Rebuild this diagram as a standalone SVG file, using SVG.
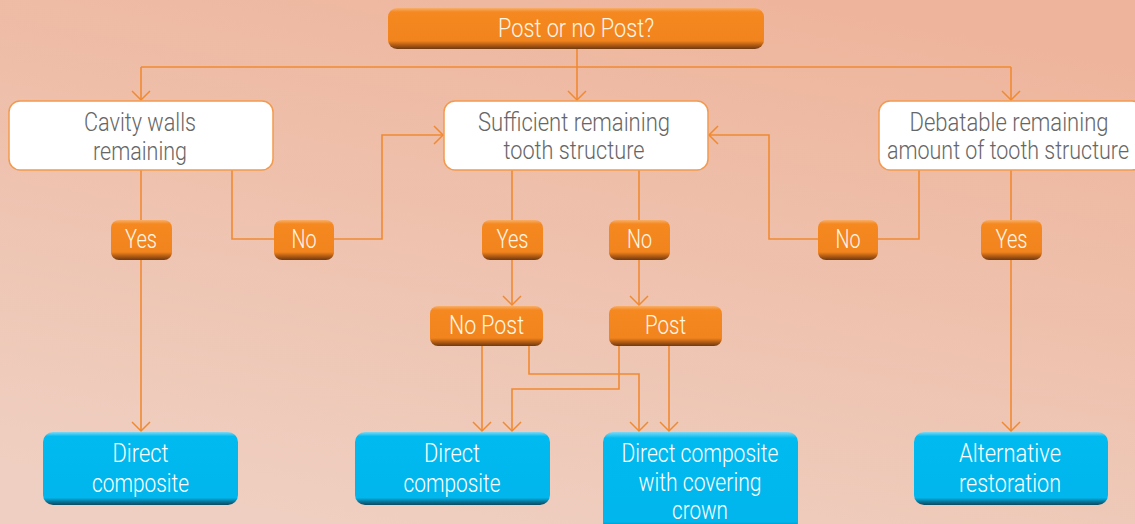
<svg xmlns="http://www.w3.org/2000/svg" width="1135" height="524" viewBox="0 0 1135 524">
<defs>
  <linearGradient id="bg" x1="0.7" y1="0" x2="0.3" y2="1">
    <stop offset="0" stop-color="#EEB59C"/>
    <stop offset="1" stop-color="#EFCFC1"/>
  </linearGradient>
  <linearGradient id="og" x1="0" y1="0" x2="0" y2="1">
    <stop offset="0" stop-color="#F9AE6A"/>
    <stop offset="0.1" stop-color="#F5881F"/>
    <stop offset="0.8" stop-color="#F2841E"/>
    <stop offset="0.9" stop-color="#B35C14"/>
    <stop offset="1" stop-color="#6E3A10"/>
  </linearGradient>
  <linearGradient id="bl" x1="0" y1="0" x2="0" y2="1">
    <stop offset="0" stop-color="#7ED9F6"/>
    <stop offset="0.06" stop-color="#00BAF0"/>
    <stop offset="0.9" stop-color="#00B6EC"/>
    <stop offset="0.96" stop-color="#0A6E90"/>
    <stop offset="1" stop-color="#0D4A60"/>
  </linearGradient>
  <marker id="ah" viewBox="-11 -11 13 22" markerWidth="13" markerHeight="22" refX="0" refY="0" orient="auto" markerUnits="userSpaceOnUse">
    <path d="M-9,-9 L0,0 L-9,9" fill="none" stroke="#F08A32" stroke-width="1.5"/>
  </marker>
  <style>
    .ln{fill:none;stroke:#F08A32;stroke-width:1.6}
    .ar{marker-end:url(#ah)}
    .wb{fill:#FFFFFF;stroke:#F39A4E;stroke-width:1.5}
    .ob{fill:url(#og)}
    .bb{fill:url(#bl)}
    text{font-family:Roboto,"Liberation Sans",sans-serif;font-weight:300;font-size:26px;text-anchor:middle}
    .tw{fill:#666666}
    .to{fill:#FFF6E6}
    .tb{fill:#FFFFFF}
  </style>
</defs>
<rect width="1135" height="524" fill="url(#bg)"/>

<g id="connectors">
  <path class="ln" d="M141,67 H1011"/>
  <path class="ln ar" d="M577,48 V100"/>
  <path class="ln ar" d="M141,67 V100"/>
  <path class="ln ar" d="M1011,67 V100"/>
  <path class="ln" d="M141,170 V220"/>
  <path class="ln ar" d="M141,260 V431"/>
  <path class="ln" d="M232,170 V239 H274"/>
  <path class="ln ar" d="M334,239 H382 V135 H443"/>
  <path class="ln" d="M512,170 V220"/>
  <path class="ln ar" d="M512,260 V305"/>
  <path class="ln" d="M639,170 V220"/>
  <path class="ln ar" d="M639,260 V305"/>
  <path class="ln ar" d="M482,346 V431"/>
  <path class="ln ar" d="M529,346 V374 H639 V431"/>
  <path class="ln ar" d="M619,346 V389 H512 V431"/>
  <path class="ln ar" d="M669,346 V431"/>
  <path class="ln" d="M919,170 V239 H878"/>
  <path class="ln ar" d="M818,239 H769 V135 H709"/>
  <path class="ln" d="M1011,170 V220"/>
  <path class="ln ar" d="M1011,260 V431"/>
</g>

<g id="n-top">
  <rect class="ob" x="388" y="8" width="376" height="41" rx="9"/>
  <text class="to" x="576" y="37" textLength="156" lengthAdjust="spacingAndGlyphs">Post or no Post?</text>
</g>

<g id="n-cavity">
  <rect class="wb" x="9" y="101" width="264" height="69" rx="11"/>
  <text class="tw" x="140" y="131" textLength="112" lengthAdjust="spacingAndGlyphs">Cavity walls</text>
  <text class="tw" x="140" y="160" textLength="94" lengthAdjust="spacingAndGlyphs">remaining</text>
</g>
<g id="n-sufficient">
  <rect class="wb" x="444" y="101" width="264" height="69" rx="11"/>
  <text class="tw" x="574" y="131" textLength="192" lengthAdjust="spacingAndGlyphs">Sufficient remaining</text>
  <text class="tw" x="574" y="159" textLength="141" lengthAdjust="spacingAndGlyphs">tooth structure</text>
</g>
<g id="n-debatable">
  <rect class="wb" x="879" y="101" width="264" height="69" rx="11"/>
  <text class="tw" x="1009" y="131" textLength="199" lengthAdjust="spacingAndGlyphs">Debatable remaining</text>
  <text class="tw" x="1008" y="159" textLength="242" lengthAdjust="spacingAndGlyphs">amount of tooth structure</text>
</g>

<g id="b-yes1">
  <rect class="ob" x="111" y="220" width="61" height="40" rx="8"/>
  <text class="to" x="141" y="248" textLength="32" lengthAdjust="spacingAndGlyphs">Yes</text>
</g>
<g id="b-no1">
  <rect class="ob" x="274" y="220" width="60" height="40" rx="8"/>
  <text class="to" x="304" y="248" textLength="25" lengthAdjust="spacingAndGlyphs">No</text>
</g>
<g id="b-yes2">
  <rect class="ob" x="482" y="220" width="61" height="40" rx="8"/>
  <text class="to" x="512.5" y="248" textLength="32" lengthAdjust="spacingAndGlyphs">Yes</text>
</g>
<g id="b-no2">
  <rect class="ob" x="609" y="220" width="61" height="40" rx="8"/>
  <text class="to" x="639.5" y="248" textLength="25" lengthAdjust="spacingAndGlyphs">No</text>
</g>
<g id="b-no3">
  <rect class="ob" x="818" y="220" width="60" height="40" rx="8"/>
  <text class="to" x="848" y="248" textLength="25" lengthAdjust="spacingAndGlyphs">No</text>
</g>
<g id="b-yes3">
  <rect class="ob" x="981" y="220" width="61" height="40" rx="8"/>
  <text class="to" x="1011.5" y="248" textLength="32" lengthAdjust="spacingAndGlyphs">Yes</text>
</g>

<g id="b-nopost">
  <rect class="ob" x="430" y="306" width="113" height="40" rx="8"/>
  <text class="to" x="486.5" y="334" textLength="75" lengthAdjust="spacingAndGlyphs">No Post</text>
</g>
<g id="b-post">
  <rect class="ob" x="609" y="306" width="113" height="40" rx="8"/>
  <text class="to" x="665.5" y="334" textLength="41" lengthAdjust="spacingAndGlyphs">Post</text>
</g>

<g id="r-direct1">
  <rect class="bb" x="43" y="432" width="195" height="73" rx="10"/>
  <text class="tb" x="140.5" y="462" textLength="56" lengthAdjust="spacingAndGlyphs">Direct</text>
  <text class="tb" x="140.5" y="492" textLength="97" lengthAdjust="spacingAndGlyphs">composite</text>
</g>
<g id="r-direct2">
  <rect class="bb" x="355" y="432" width="195" height="73" rx="10"/>
  <text class="tb" x="452" y="462" textLength="56" lengthAdjust="spacingAndGlyphs">Direct</text>
  <text class="tb" x="452" y="492" textLength="97" lengthAdjust="spacingAndGlyphs">composite</text>
</g>
<g id="r-crown">
  <rect class="bb" x="603" y="432" width="195" height="100" rx="10"/>
  <text class="tb" x="700" y="462" textLength="157" lengthAdjust="spacingAndGlyphs">Direct composite</text>
  <text class="tb" x="700" y="491" textLength="123" lengthAdjust="spacingAndGlyphs">with covering</text>
  <text class="tb" x="700" y="519" textLength="56" lengthAdjust="spacingAndGlyphs">crown</text>
</g>
<g id="r-alt">
  <rect class="bb" x="914" y="432" width="194" height="73" rx="10"/>
  <text class="tb" x="1010" y="462" textLength="102" lengthAdjust="spacingAndGlyphs">Alternative</text>
  <text class="tb" x="1010" y="492" textLength="102" lengthAdjust="spacingAndGlyphs">restoration</text>
</g>
</svg>
